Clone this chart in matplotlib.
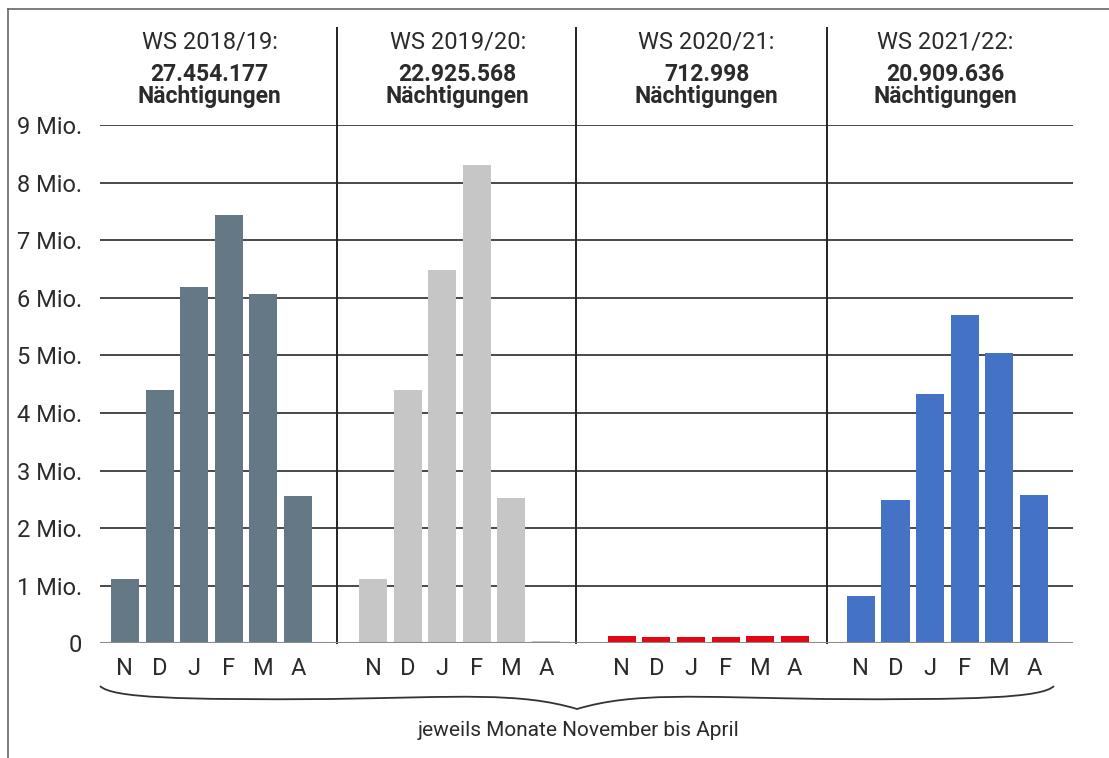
import matplotlib.pyplot as plt
import matplotlib.transforms as mtransforms
from matplotlib.path import Path
from matplotlib.patches import PathPatch

plt.rcParams["font.family"] = ["Roboto", "DejaVu Sans"]

# overnight stays per month (millions), winter seasons November - April
months = ["N", "D", "J", "F", "M", "A"]
seasons = ["WS 2018/19:", "WS 2019/20:", "WS 2020/21:", "WS 2021/22:"]
totals = ["27.454.177", "22.925.568", "712.998", "20.909.636"]
ws_2018 = [1.12, 4.40, 6.19, 7.43, 6.07, 2.55]
ws_2019 = [1.12, 4.40, 6.49, 8.30, 2.53, 0.04]
ws_2020 = [0.13, 0.11, 0.11, 0.11, 0.13, 0.13]
ws_2021 = [0.82, 2.48, 4.33, 5.70, 5.04, 2.57]
ytick_labels = ["0", "1 Mio.", "2 Mio.", "3 Mio.", "4 Mio.", "5 Mio.",
                "6 Mio.", "7 Mio.", "8 Mio.", "9 Mio."]

series = [ws_2018, ws_2019, ws_2020, ws_2021]
colors = ["#647985", "#c6c6c6", "#e30613", "#4472c4"]
TEXT = "#2b2b2b"

W, H = 1109, 758
fig = plt.figure(figsize=(W / 100, H / 100), dpi=100)
ax = fig.add_axes([100 / W, (H - 643.3) / H, 973 / W, (643.3 - 125) / H])

# layout of the four season blocks (bar units)
group_start = [0, 7.17, 14.36, 21.27]
separators = [6.13, 13.03, 20.29]

xticks, xlabels = [], []
for values, color, start in zip(series, colors, group_start):
    x = [start + i for i in range(len(months))]
    ax.bar(x, values, width=0.81, color=color, zorder=3)
    xticks += x
    xlabels += months

ax.set_xlim(-0.72, 27.4)
ax.set_ylim(0, 9)
ax.set_yticks(range(10))
ax.set_yticklabels(ytick_labels)
ax.set_xticks(xticks)
ax.set_xticklabels(xlabels)
ax.tick_params(length=0, colors=TEXT, labelsize=17)
ax.tick_params(axis="y", pad=13)
ax.tick_params(axis="x", pad=10)
for s in ax.spines.values():
    s.set_visible(False)

ax.set_axisbelow(True)
ax.yaxis.grid(True, color="#3a3a3a", lw=1.3)
ax.axhline(0, color="#8a8a8a", lw=2.2, zorder=4)

for sx in separators:
    ax.axvline(sx, ymin=0, ymax=(643.3 - 28) / (643.3 - 125), color="#222222",
               lw=1.4, clip_on=False, zorder=2)

# season headers
trans = mtransforms.blended_transform_factory(ax.transData, fig.transFigure)
for season, total, start in zip(seasons, totals, group_start):
    cx = start + 2.45
    ax.text(cx, 1 - 48 / H, season, transform=trans, ha="center", va="baseline",
            fontsize=17, color=TEXT)
    ax.text(cx, 1 - 81 / H, total, transform=trans, ha="center", va="baseline",
            fontsize=16.5, fontweight="bold", color=TEXT)
    ax.text(cx, 1 - 103 / H, "Nächtigungen", transform=trans, ha="center",
            va="baseline", fontsize=16.5, fontweight="bold", color=TEXT)


# curly brace under the month labels
def px(x, y):
    return (x / W, 1 - y / H)


verts = [px(100, 686), px(112, 698), px(180, 700), px(330, 699),
         px(460, 697), px(520, 692), px(577, 709),
         px(634, 692), px(694, 697), px(824, 699),
         px(974, 700), px(1042, 698), px(1054, 686)]
codes = [Path.MOVETO] + [Path.CURVE4] * 12
fig.patches.append(PathPatch(Path(verts, codes), transform=fig.transFigure,
                             fill=False, edgecolor="#333333", lw=1.3))
fig.text(579 / W, 1 - 731 / H, "jeweils Monate November bis April",
         ha="center", va="center", fontsize=15, color=TEXT)

# outer frame (left and top edge)
fig.add_artist(plt.Line2D([8 / W, 8 / W], [0, 1 - 9 / H], color="#666666", lw=1.2,
                          transform=fig.transFigure))
fig.add_artist(plt.Line2D([8 / W, 1], [1 - 9 / H, 1 - 9 / H], color="#666666", lw=1.2,
                          transform=fig.transFigure))

fig.savefig("out.png", dpi=100)
